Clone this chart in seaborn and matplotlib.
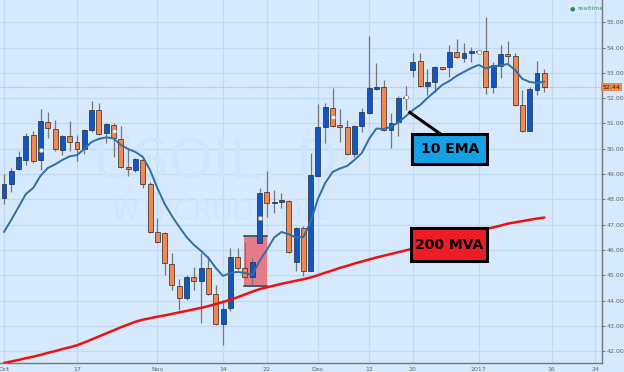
import numpy as np
import pandas as pd
import matplotlib
matplotlib.use("Agg")
import matplotlib.pyplot as plt
import seaborn as sns
from matplotlib.patches import Rectangle

# ---------------- data ----------------
start_date = "2016-10-03"
dates = pd.bdate_range(start_date, periods=75)

opens = [48.04, 48.61, 49.21, 49.56, 50.55, 49.56, 51.05, 50.77, 49.95, 50.52,
         50.28, 50.00, 50.74, 51.53, 50.61, 50.94, 50.39, 49.29, 49.16, 49.56,
         48.60, 46.72, 46.66, 45.43, 44.58, 44.09, 44.92, 44.79, 45.30, 44.25,
         43.08, 43.70, 45.74, 45.28, 44.91, 46.29, 48.28, 47.85, 47.89, 47.94,
         45.54, 46.86, 45.18, 48.93, 50.85, 51.62, 50.91, 50.87, 49.78, 50.91,
         51.43, 52.38, 52.43, 50.74, 51.05, 52.00, 53.11, 53.47, 52.49, 52.63,
         53.22, 53.25, 53.84, 53.60, 53.80, 53.81, 53.87, 52.45, 53.28, 53.75,
         53.67, 51.73, 50.72, 52.32, 53.01]
highs = [48.99, 49.23, 49.92, 50.61, 50.70, 51.56, 51.44, 51.14, 50.55, 51.10,
         50.55, 50.77, 51.90, 51.80, 51.03, 51.01, 50.90, 50.02, 49.62, 49.69,
         48.70, 47.25, 46.72, 45.87, 44.84, 45.01, 45.34, 45.89, 45.76, 44.62,
         44.02, 46.08, 46.08, 46.33, 45.74, 48.46, 49.13, 48.37, 48.24, 47.98,
         46.92, 46.95, 49.85, 51.76, 51.80, 52.39, 51.56, 51.14, 50.94, 51.60,
         54.46, 53.38, 52.72, 51.43, 52.09, 52.48, 53.77, 53.77, 53.14, 53.27,
         53.25, 54.10, 54.33, 54.17, 54.04, 53.84, 55.22, 53.44, 54.10, 54.27,
         53.77, 52.32, 52.45, 53.47, 53.14]
lows = [47.81, 48.30, 49.16, 49.35, 49.45, 49.16, 50.42, 49.92, 49.75, 49.91,
        49.52, 49.79, 50.68, 50.53, 50.24, 49.69, 49.23, 48.93, 49.09, 48.44,
        46.66, 46.26, 45.01, 44.42, 43.63, 44.02, 44.42, 43.10, 44.22, 43.05,
        42.25, 43.60, 45.21, 44.84, 44.62, 46.26, 47.32, 47.45, 47.65, 45.89,
        45.18, 44.97, 45.15, 48.90, 50.22, 50.87, 50.28, 49.75, 49.69, 50.65,
        51.38, 52.32, 50.72, 50.02, 50.51, 51.53, 52.85, 52.45, 52.13, 52.26,
        53.13, 52.85, 53.58, 53.44, 53.44, 53.78, 52.17, 52.19, 52.79, 53.31,
        51.69, 50.68, 50.70, 52.13, 52.26]
closes = [48.60, 49.13, 49.66, 50.52, 49.52, 51.11, 50.83, 49.98, 50.51, 50.28,
          49.99, 50.74, 51.53, 50.60, 50.97, 50.44, 49.27, 49.20, 49.59, 48.61,
          46.72, 46.30, 45.47, 44.60, 44.09, 44.92, 44.79, 45.30, 44.27, 43.08,
          43.67, 45.74, 45.30, 44.91, 45.54, 48.26, 47.85, 47.91, 47.98, 45.93,
          46.86, 45.18, 48.96, 50.87, 51.66, 50.91, 50.87, 49.78, 50.91, 51.44,
          52.39, 52.43, 50.74, 51.01, 52.00, 52.06, 53.44, 52.48, 52.65, 53.25,
          53.15, 53.84, 53.62, 53.80, 53.85, 53.82, 52.43, 53.31, 53.74, 53.67,
          51.73, 50.72, 52.35, 53.01, 52.44]
ema10 = [46.71, 47.19, 47.70, 48.21, 48.45, 48.93, 49.24, 49.38, 49.56, 49.70,
         49.75, 49.99, 50.27, 50.39, 50.45, 50.41, 50.15, 49.99, 49.87, 49.68,
         49.16, 48.45, 47.82, 47.34, 46.91, 46.51, 46.20, 45.96, 45.68, 45.29,
         44.97, 45.09, 45.13, 45.09, 45.01, 45.57, 46.00, 46.49, 46.71, 46.62,
         46.49, 46.51, 47.11, 48.02, 48.65, 49.08, 49.22, 49.32, 49.56, 49.83,
         50.39, 50.80, 50.78, 50.87, 51.04, 51.28, 51.53, 51.73, 52.01, 52.26,
         52.52, 52.68, 52.88, 53.04, 53.19, 53.31, 53.18, 53.26, 53.29, 53.35,
         53.11, 52.76, 52.64, 52.60, 52.65]
mva200 = [41.53, 41.59, 41.65, 41.72, 41.78, 41.85, 41.93, 42.00, 42.08, 42.15,
          42.23, 42.34, 42.46, 42.58, 42.70, 42.82, 42.94, 43.05, 43.16, 43.24,
          43.30, 43.36, 43.41, 43.47, 43.53, 43.59, 43.65, 43.71, 43.78, 43.86,
          43.94, 44.03, 44.13, 44.24, 44.35, 44.45, 44.52, 44.59, 44.66, 44.72,
          44.78, 44.84, 44.91, 45.00, 45.10, 45.19, 45.29, 45.37, 45.46, 45.54,
          45.62, 45.70, 45.77, 45.84, 45.91, 45.98, 46.05, 46.12, 46.20, 46.28,
          46.35, 46.43, 46.51, 46.59, 46.67, 46.75, 46.82, 46.89, 46.96, 47.04,
          47.09, 47.14, 47.19, 47.24, 47.28]
event_idx = [5, 15, 35, 45, 55, 65]
event_val = [49.95, 50.72, 47.28, 51.27, 52.04, 53.81]

tick_dates = ["2016-10-03", "2016-10-17", "2016-11-01", "2016-11-14", "2016-11-22",
              "2016-12-01", "2016-12-12", "2016-12-20", "2017-01-02", "2017-01-16",
              "2017-01-24"]
tick_labels = ["Oct", "17", "Nov", "14", "22", "Dec", "12", "20", "2017", "16", "24"]
price_ticks = [42, 43, 44, 45, 46, 47, 48, 49, 50, 51, 52, 53, 54, 55]
last_price = 52.44
highlight_box = (32.9, 36.0, 44.56, 46.55)  # x0, x1, y0, y1

# ---------------- style ----------------
BG = "#d6e9fd"
GRID = "#c0daf4"
BLUE = "#0f56c8"
ORANGE = "#f4874f"
sns.set_style("white", {"axes.facecolor": BG})
plt.rcParams["font.family"] = ["DejaVu Sans"]

fig = plt.figure(figsize=(6.24, 3.72), dpi=100)
fig.patch.set_facecolor(BG)
ax = fig.add_axes([0, 9 / 372, 602 / 624, 363 / 372])
ax.set_facecolor(BG)

x = np.arange(len(dates))
df = pd.DataFrame({"x": x, "ema": ema10, "mva": mva200})

# grid
tick_x = [int(np.busday_count(start_date, d)) for d in tick_dates]
for tx in tick_x:
    ax.axvline(tx, color=GRID, lw=0.9, zorder=0)
for py in price_ticks:
    ax.axhline(py, color=GRID, lw=0.9, zorder=0)

# watermark (inside the axes, beneath the candles)
ax.text(216 / 602, (363 - 163) / 363, "USOIL, D", fontsize=40, color="#d0e5fa",
        ha="center", va="center", zorder=0.5, transform=ax.transAxes)
ax.text(219 / 602, (363 - 212) / 363, "WTI CRUDE OIL", fontsize=20, color="#d0e5fa",
        ha="center", va="center", zorder=0.5, transform=ax.transAxes)

# highlight box
bx0, bx1, by0, by1 = highlight_box
ax.add_patch(Rectangle((bx0, by0), bx1 - bx0, by1 - by0, facecolor="#e8707c",
                       edgecolor="none", alpha=0.9, zorder=1))
ax.plot([bx0, bx1], [by1, by1], color="#3d5f66", lw=1.4, zorder=1.5)
ax.plot([bx0, bx1], [by0, by0], color="#3d5f66", lw=1.4, zorder=1.5)

# last price line
ax.axhline(last_price, color="#e8a494", lw=0.9, ls=(0, (1, 1)), zorder=1)

# candles
o = np.array(opens); h = np.array(highs); l = np.array(lows); c = np.array(closes)
up = c >= o
cols = np.where(up, BLUE, ORANGE)
ax.vlines(x, l, h, color="#777777", lw=0.9, zorder=2)
body_bottom = np.minimum(o, c)
body_h = np.maximum(np.abs(c - o), 0.05)
ax.bar(x, body_h, bottom=body_bottom, width=0.68, color=cols,
       edgecolor="#2a2a2a", linewidth=0.5, zorder=3)

# moving averages
sns.lineplot(data=df, x="x", y="ema", ax=ax, color="#2f6fa6", lw=1.4, zorder=4,
             legend=False)
sns.lineplot(data=df, x="x", y="mva", ax=ax, color="#ee1111", lw=1.8, zorder=4,
             legend=False)

# event markers
ax.scatter(event_idx, event_val, s=9, facecolor="white", edgecolor="#999999",
           linewidth=0.6, zorder=5)

# annotation boxes
ax.add_patch(Rectangle((55.9, 49.40), 10.3, 1.18, facecolor="#18a0e6",
                       edgecolor="black", lw=2.2, zorder=6))
ax.text(61.05, 49.99, "10 EMA", fontsize=10, fontweight="bold", color="black",
        ha="center", va="center", zorder=7)
ax.plot([55.4, 59.8], [51.47, 50.58], color="black", lw=2.2, zorder=6,
        solid_capstyle="butt")
ax.add_patch(Rectangle((55.8, 45.57), 10.4, 1.28, facecolor="#ee1c24",
                       edgecolor="black", lw=2.2, zorder=6))
ax.text(61.0, 46.21, "200 MVA", fontsize=10, fontweight="bold", color="black",
        ha="center", va="center", zorder=7)

# axes
ax.set_xlim(-0.548, 81.9)
ax.set_ylim(41.53, 55.88)
ax.set_xlabel("")
ax.set_ylabel("")
ax.set_xticks(tick_x)
ax.set_xticklabels(tick_labels)
ax.yaxis.tick_right()
ax.set_yticks(price_ticks)
ax.set_yticklabels([f"{v:.2f}" for v in price_ticks])
ax.tick_params(axis="y", which="both", right=True, length=2, width=0.6,
               colors="#666666", labelsize=4.5, pad=1.5)
ax.tick_params(axis="x", length=2, width=0.6, colors="#666666", labelsize=4.5,
               pad=1)
for s in ["top", "left"]:
    ax.spines[s].set_visible(False)
for s in ["right", "bottom"]:
    ax.spines[s].set_color("#777777")
    ax.spines[s].set_linewidth(1.0)

# current price tag
ax.text(1.0 + 1 / 602, last_price, f"{last_price:.2f}", transform=ax.get_yaxis_transform(),
        fontsize=4.5, color="#222222", ha="left", va="center", zorder=8,
        bbox=dict(boxstyle="square,pad=0.25", facecolor="#f08a4b", edgecolor="none"),
        clip_on=False)

# realtime
fig.text(572 / 624, 1 - 9 / 372, "\u25cf", fontsize=4.5, color="#2e8b57",
         ha="center", va="center")
fig.text(577 / 624, 1 - 9 / 372, "realtime", fontsize=4.5, color="#3a9a5a",
         ha="left", va="center")

fig.savefig("out.png", dpi=100, facecolor=BG)
